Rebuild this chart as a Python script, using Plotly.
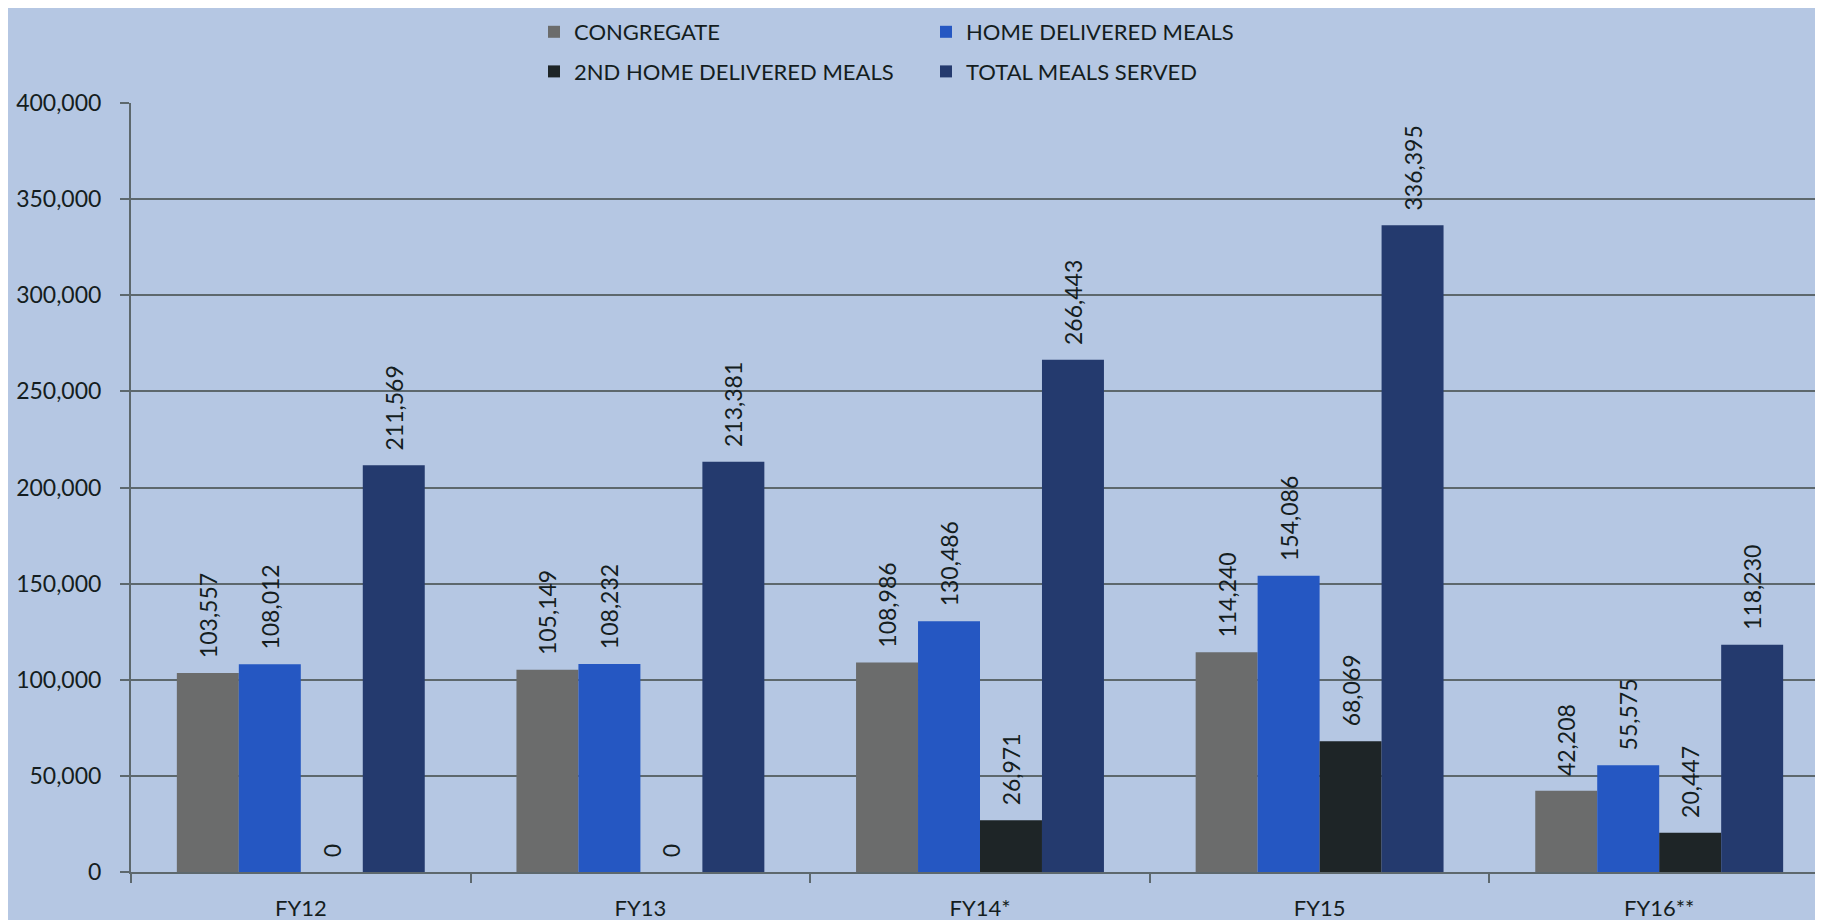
import plotly.graph_objects as go

categories = ["FY12", "FY13", "FY14*", "FY15", "FY16**"]
congregate = [103557, 105149, 108986, 114240, 42208]
home_delivered = [108012, 108232, 130486, 154086, 55575]
second_home = [0, 0, 26971, 68069, 20447]
total_served = [211569, 213381, 266443, 336395, 118230]
y_ticks = [0, 50000, 100000, 150000, 200000, 250000, 300000, 350000, 400000]

series = [
    ("CONGREGATE", congregate, "#6b6c6c", "legend"),
    ("HOME DELIVERED MEALS", home_delivered, "#2557c2", "legend2"),
    ("2ND HOME DELIVERED MEALS", second_home, "#1e2527", "legend"),
    ("TOTAL MEALS SERVED", total_served, "#243a6e", "legend2"),
]

FONT = "Lato, 'Open Sans', sans-serif"
TXT = "#141d20"
W, H = 1823, 920
ML, MR, MT, MB = 123, 2, 95, 56
PW, PH = W - ML - MR, H - MT - MB


def px_x(px):
    return (px - ML) / PW


def px_y(py):
    return 1 + (MT - py) / PH


fig = go.Figure()
for name, vals, color, lg in series:
    fig.add_trace(go.Bar(
        name=name, x=categories, y=vals,
        marker=dict(color=color, line=dict(width=0)),
        text=["\u00a0\u00a0" + f"{v:,}" for v in vals],
        textposition="outside", textangle=-90,
        textfont=dict(family=FONT, size=23, color=TXT),
        constraintext="none", cliponaxis=False,
        legend=lg, legendgroup=name,
    ))

legend_common = dict(
    orientation="v", traceorder="grouped", tracegroupgap=8,
    font=dict(family=FONT, size=22, color=TXT),
    bgcolor="rgba(0,0,0,0)", xanchor="left", yanchor="top",
    itemwidth=30,
)

fig.update_layout(
    width=W, height=H,
    paper_bgcolor="#b5c7e3", plot_bgcolor="#b5c7e3",
    margin=dict(l=ML, r=MR, t=MT, b=MB, autoexpand=False),
    barmode="group", bargap=0.27, bargroupgap=0,
    font=dict(family=FONT, size=22, color=TXT),
    legend=dict(x=px_x(526), y=px_y(3), **legend_common),
    legend2=dict(x=px_x(918), y=px_y(3), **legend_common),
    showlegend=True,
)

fig.update_xaxes(
    type="category", showgrid=False,
    showline=True, linecolor="#5d686d", linewidth=2,
    ticks="outside", tickson="boundaries", ticklen=9, tickcolor="#5d686d", tickwidth=2,
    ticklabelstandoff=16,
    tickfont=dict(family=FONT, size=22, color=TXT),
)
fig.update_yaxes(
    range=[0, 400000], tickvals=y_ticks,
    ticktext=[f"{v:,}" for v in y_ticks],
    showgrid=True, gridcolor="#5d686d", gridwidth=2,
    showline=True, linecolor="#5d686d", linewidth=2,
    ticks="outside", ticklen=9, tickcolor="#5d686d", tickwidth=2,
    ticklabelstandoff=14,
    tickfont=dict(family=FONT, size=23, color=TXT),
    zeroline=False,
)

fig.write_html("out.html")
